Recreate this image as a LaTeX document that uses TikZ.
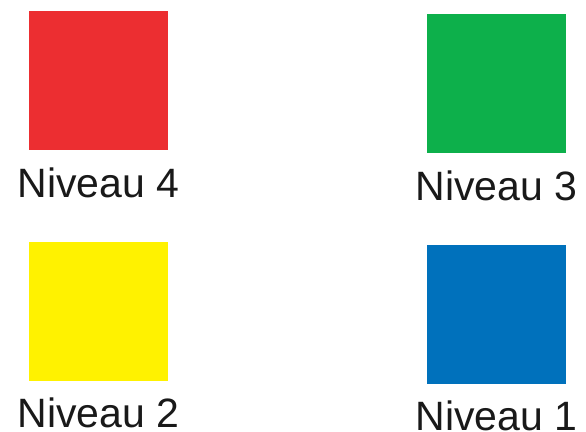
\documentclass[tikz,border=0pt]{standalone}
\usepackage{fontspec}
\setmainfont{Liberation Sans}
\usepackage{xcolor}
\usetikzlibrary{positioning}
\definecolor{niv4}{HTML}{EC2E31}
\definecolor{niv3}{HTML}{0DB04B}
\definecolor{niv2}{HTML}{FFF200}
\definecolor{niv1}{HTML}{0071BC}

\begin{document}
\begin{tikzpicture}[x=1pt,y=-1pt,
 swatch/.style={minimum size=139pt,inner sep=0pt,outer sep=0pt},
 levellabel/.style={anchor=base,inner sep=0pt,font=\fontsize{41}{41}\selectfont,text=black!90}]
\useasboundingbox (0,0) rectangle (586,431);
\node[swatch,fill=niv4] (sq4) at (98.5,80.5) {};
\node[swatch,fill=niv3] (sq3) at (496.5,83.5) {};
\node[swatch,fill=niv2] (sq2) at (98.5,311.5) {};
\node[swatch,fill=niv1] (sq1) at (496.5,314.5) {};
\node[levellabel] (lb4) at (98.5,197) {Niveau 4};
\node[levellabel] (lb3) at (496.5,200) {Niveau 3};
\node[levellabel] (lb2) at (98.5,427) {Niveau 2};
\node[levellabel] (lb1) at (496.5,430) {Niveau 1};
\end{tikzpicture}
\end{document}
